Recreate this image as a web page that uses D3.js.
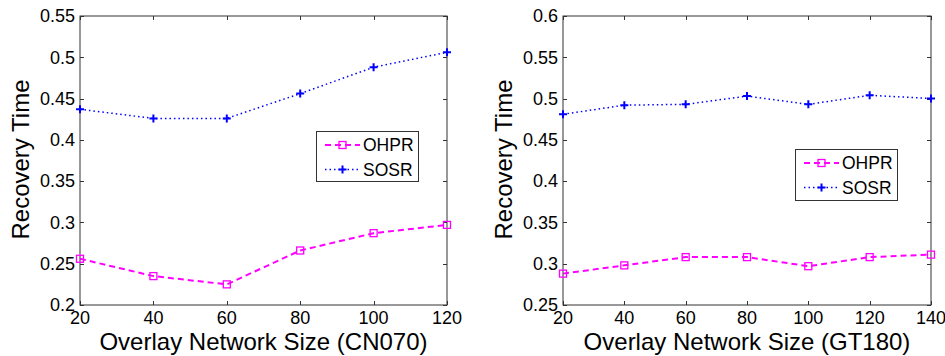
<!DOCTYPE html>
<html>
<head>
<meta charset="utf-8">
<script src="https://cdn.jsdelivr.net/npm/d3@7"></script>
<style>
  html, body { margin: 0; padding: 0; background: #fff; }
  svg { display: block; font-family: "Liberation Sans", Arial, sans-serif; }
</style>
</head>
<body>
<svg id="chart" width="945" height="356"></svg>
<script>
// ---- Data ----
const seriesNames = ["OHPR", "SOSR"];

const leftX = [20, 40, 60, 80, 100, 120];
const leftOHPR = [0.256, 0.235, 0.225, 0.266, 0.287, 0.297];
const leftSOSR = [0.437, 0.426, 0.426, 0.456, 0.488, 0.506];
const leftYTicks = [0.2, 0.25, 0.3, 0.35, 0.4, 0.45, 0.5, 0.55];
const leftXTitle = "Overlay Network Size (CN070)";

const rightX = [20, 40, 60, 80, 100, 120, 140];
const rightOHPR = [0.288, 0.298, 0.308, 0.308, 0.297, 0.308, 0.311];
const rightSOSR = [0.481, 0.492, 0.493, 0.503, 0.493, 0.504, 0.500];
const rightYTicks = [0.25, 0.3, 0.35, 0.4, 0.45, 0.5, 0.55, 0.6];
const rightXTitle = "Overlay Network Size (GT180)";

const yTitle = "Recovery Time";

// ---- Drawing ----
const svg = d3.select("#chart");
const axisColor = "#333";

function drawPanel(p) {
  const x = d3.scaleLinear().domain(d3.extent(p.xs)).range([p.left, p.right]);
  const y = d3.scaleLinear().domain(d3.extent(p.yTicks)).range([p.bottom, p.top]);
  const g = svg.append("g");

  // frame
  g.append("rect")
    .attr("x", p.left).attr("y", p.top)
    .attr("width", p.right - p.left).attr("height", p.bottom - p.top)
    .attr("fill", "none").attr("stroke", axisColor).attr("stroke-width", 1);

  const tl = 4;
  // inward ticks
  p.yTicks.forEach(v => {
    const yy = Math.round(y(v)) + 0.5;
    g.append("line").attr("x1", p.left).attr("x2", p.left + tl).attr("y1", yy).attr("y2", yy).attr("stroke", axisColor);
    g.append("line").attr("x1", p.right).attr("x2", p.right - tl).attr("y1", yy).attr("y2", yy).attr("stroke", axisColor);
    g.append("text").attr("x", p.left - 5).attr("y", y(v)).attr("dy", "0.35em")
      .attr("text-anchor", "end").attr("font-size", 18).attr("fill", "#000").text(d3.format("")(v));
  });
  p.xs.forEach(v => {
    const xx = Math.round(x(v)) + 0.5;
    g.append("line").attr("x1", xx).attr("x2", xx).attr("y1", p.bottom).attr("y2", p.bottom - tl).attr("stroke", axisColor);
    g.append("line").attr("x1", xx).attr("x2", xx).attr("y1", p.top).attr("y2", p.top + tl).attr("stroke", axisColor);
    g.append("text").attr("x", x(v)).attr("y", p.bottom + 19)
      .attr("text-anchor", "middle").attr("font-size", 18).attr("fill", "#000").text(v);
  });

  // titles
  g.append("text").attr("x", (p.left + p.right) / 2).attr("y", 350)
    .attr("text-anchor", "middle").attr("font-size", 24).attr("fill", "#000").text(p.xTitle);
  g.append("text")
    .attr("transform", `translate(${p.yTitleX},${(p.top + p.bottom) / 2 - 1}) rotate(-90)`)
    .attr("text-anchor", "middle").attr("font-size", 24).attr("fill", "#000").text(yTitle);

  const line = d3.line().x((d, i) => x(p.xs[i])).y(d => y(d));

  // SOSR
  g.append("path").datum(p.sosr).attr("d", line)
    .attr("fill", "none").attr("stroke", "#0000ff").attr("stroke-width", 1.5)
    .attr("stroke-dasharray", "1.5,3");
  p.sosr.forEach((v, i) => drawPlus(g, x(p.xs[i]), y(v)));

  // OHPR
  g.append("path").datum(p.ohpr).attr("d", line)
    .attr("fill", "none").attr("stroke", "#ff00ff").attr("stroke-width", 2)
    .attr("stroke-dasharray", "6,4");
  p.ohpr.forEach((v, i) => drawSquare(g, x(p.xs[i]), y(v)));

  // legend
  const L = p.legend;
  g.append("rect").attr("x", L.x + 0.5).attr("y", L.y + 0.5).attr("width", L.w).attr("height", L.h)
    .attr("fill", "#fff").attr("stroke", axisColor).attr("stroke-width", 1);
  const r1 = L.y + 14, r2 = L.y + 38.5;
  const lx1 = L.x + 9, lx2 = L.x + 44, lxm = (lx1 + lx2) / 2;
  g.append("line").attr("x1", lx1).attr("x2", lx2).attr("y1", r1).attr("y2", r1)
    .attr("stroke", "#ff00ff").attr("stroke-width", 2).attr("stroke-dasharray", "6,4");
  drawSquare(g, lxm, r1);
  g.append("line").attr("x1", lx1).attr("x2", lx2).attr("y1", r2).attr("y2", r2)
    .attr("stroke", "#0000ff").attr("stroke-width", 1.5).attr("stroke-dasharray", "1.5,3");
  drawPlus(g, lxm, r2);
  g.append("text").attr("x", L.x + 47).attr("y", r1).attr("dy", "0.35em")
    .attr("font-size", 17.5).attr("fill", "#000").text(seriesNames[0]);
  g.append("text").attr("x", L.x + 47).attr("y", r2).attr("dy", "0.35em")
    .attr("font-size", 17.5).attr("fill", "#000").text(seriesNames[1]);
}

function drawSquare(g, cx, cy) {
  const s = 7;
  g.append("rect").attr("x", cx - s / 2).attr("y", cy - s / 2).attr("width", s).attr("height", s)
    .attr("fill", "none").attr("stroke", "#ff00ff").attr("stroke-width", 1.3);
}
function drawPlus(g, cx, cy) {
  const s = 4;
  g.append("path").attr("d", `M${cx - s},${cy}H${cx + s}M${cx},${cy - s}V${cy + s}`)
    .attr("stroke", "#0000ff").attr("stroke-width", 2).attr("fill", "none");
}

drawPanel({
  xs: leftX, ohpr: leftOHPR, sosr: leftSOSR, yTicks: leftYTicks, xTitle: leftXTitle,
  left: 80, right: 447, top: 16, bottom: 305, yTitleX: 29,
  legend: { x: 316, y: 131, w: 102, h: 50 }
});
drawPanel({
  xs: rightX, ohpr: rightOHPR, sosr: rightSOSR, yTicks: rightYTicks, xTitle: rightXTitle,
  left: 563, right: 931, top: 16, bottom: 305, yTitleX: 512,
  legend: { x: 795, y: 149, w: 102, h: 51 }
});
</script>
</body>
</html>
